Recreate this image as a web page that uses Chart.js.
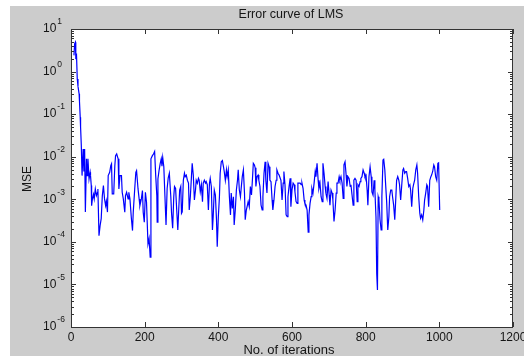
<!DOCTYPE html>
<html>
<head>
<meta charset="utf-8">
<style>
    html, body { margin: 0; padding: 0; background: #fff; }
    #wrap { width: 524px; height: 358px; }
</style>
<script src="https://cdn.jsdelivr.net/npm/chart.js@4/dist/chart.umd.min.js"></script>
</head>
<body>
<div id="wrap"><canvas id="errChart" width="524" height="358"></canvas></div>
<script>
// iteration numbers and MSE values
const iterations = [
    8, 10, 12, 13, 15, 17, 19, 22, 23, 25, 26, 28, 30, 33, 35, 37, 39, 42, 44, 46,
    49, 52, 53, 55, 56, 58, 61, 63, 66, 69, 72, 73, 76, 79, 82, 85, 88, 91, 94, 96,
    99, 101, 105, 108, 110, 112, 116, 119, 121, 124, 128, 130, 133, 137, 139, 142, 146, 148, 151, 155,
    157, 160, 164, 167, 169, 173, 176, 178, 182, 185, 187, 191, 194, 196, 199, 202, 205, 209, 212, 215,
    217, 221, 224, 227, 230, 233, 234, 236, 239, 242, 245, 247, 249, 252, 255, 258, 261, 264, 267, 271,
    273, 276, 279, 281, 284, 287, 290, 292, 295, 298, 300, 302, 305, 308, 310, 313, 316, 319, 321, 324,
    327, 329, 332, 335, 338, 340, 343, 346, 348, 351, 354, 357, 359, 362, 365, 367, 370, 373, 376, 378,
    381, 384, 386, 389, 392, 395, 397, 400, 403, 405, 408, 411, 414, 416, 419, 422, 424, 427, 430, 433,
    435, 438, 441, 443, 446, 449, 452, 454, 457, 460, 462, 465, 468, 471, 473, 476, 479, 481, 484, 487,
    490, 492, 495, 498, 500, 502, 505, 508, 510, 513, 516, 519, 521, 524, 527, 529, 532, 535, 538, 540,
    543, 546, 548, 551, 554, 557, 559, 562, 565, 567, 570, 573, 576, 578, 581, 584, 587, 589, 592, 595,
    597, 600, 603, 606, 608, 611, 614, 616, 619, 622, 625, 627, 630, 633, 635, 638, 641, 644, 646, 649,
    652, 654, 657, 660, 663, 665, 668, 671, 673, 676, 679, 682, 684, 687, 690, 692, 695, 698, 701, 703,
    706, 709, 711, 714, 717, 720, 722, 725, 728, 730, 733, 736, 739, 741, 744, 747, 749, 752, 755, 758,
    760, 763, 766, 768, 771, 774, 777, 779, 782, 785, 787, 790, 793, 796, 798, 801, 804, 806, 809, 812,
    815, 817, 820, 823, 825, 828, 830, 832, 834, 836, 839, 842, 844, 847, 849, 852, 854, 857, 860, 863,
    865, 868, 871, 873, 876, 879, 882, 884, 887, 890, 892, 895, 898, 901, 903, 906, 909, 911, 914, 917,
    920, 922, 925, 928, 930, 933, 936, 939, 941, 944, 947, 949, 952, 955, 958, 960, 963, 966, 968, 971,
    974, 977, 979, 982, 985, 987, 990, 993, 996, 998, 1001
];
const mse = [
    2.4, 4.5, 4.9, 2.2, 2.4, 0.67, 0.45, 0.30, 0.2, 0.085, 0.05, 0.018, 0.0036, 0.0152, 0.0045, 0.0152, 0.0005, 0.0089, 0.0036, 0.0089,
    0.0030, 0.0043, 0.0036, 0.0021, 0.00071, 0.0010, 0.0013, 0.00102, 0.00175, 0.00122, 0.00146, 0.00175, 0.00014, 0.00024, 0.00035, 0.0012, 0.0021, 0.00102, 0.00071, 0.0009,
    0.0005, 0.0036, 0.0043, 0.0062, 0.0068, 0.00134, 0.00134, 0.0062, 0.0106, 0.0116, 0.0089, 0.00175, 0.0036, 0.0036, 0.00146, 0.00102, 0.0005, 0.00122, 0.00146, 0.00102,
    0.00146, 0.00102, 0.00035, 0.000184, 0.0005, 0.00175, 0.0043, 0.0047, 0.00175, 0.00102, 0.00071, 0.00102, 0.0016, 0.0005, 0.00029, 0.00146, 0.00085, 0.000089, 0.00012, 0.000044,
    0.0089, 0.0106, 0.0116, 0.0132, 0.0036, 0.00122, 0.00029, 0.003, 0.0047, 0.0068, 0.0089, 0.006, 0.0096, 0.0058, 0.0012, 0.00025, 0.0018, 0.0032, 0.0041, 0.00115,
    0.00047, 0.00021, 0.00115, 0.002, 0.0018, 0.00056, 0.00019, 0.00047, 0.00165, 0.002, 0.00047, 0.00051, 0.0028, 0.0041, 0.0034, 0.0037, 0.0028, 0.0024, 0.00056, 0.00115,
    0.0034, 0.007, 0.0037, 0.00096, 0.00165, 0.0028, 0.0024, 0.0031, 0.0028, 0.0015, 0.0022, 0.00088, 0.0024, 0.0028, 0.0024, 0.0026, 0.0022, 0.00056, 0.0024, 0.0031,
    0.002, 0.00019, 0.00039, 0.00165, 0.00126, 0.00033, 0.000077, 0.00039, 0.00115, 0.0041, 0.0076, 0.0081, 0.0058, 0.0045, 0.0028, 0.0049, 0.0034, 0.0049, 0.00115, 0.00043,
    0.0014, 0.00061, 0.00115, 0.00025, 0.00056, 0.00165, 0.0028, 0.0049, 0.00165, 0.00115, 0.0018, 0.0034, 0.0049, 0.0014, 0.00033, 0.00056, 0.00073, 0.00088, 0.00067, 0.002,
    0.00126, 0.0024, 0.007, 0.0064, 0.0055, 0.002, 0.0034, 0.0037, 0.0028, 0.002, 0.00073, 0.00056, 0.00115, 0.0041, 0.0076, 0.0028, 0.0014, 0.007, 0.0058, 0.0028,
    0.0026, 0.00096, 0.00056, 0.00096, 0.002, 0.0028, 0.0049, 0.0041, 0.0037, 0.0037, 0.0028, 0.00096, 0.0024, 0.0045, 0.0022, 0.00043, 0.00039, 0.00115, 0.002, 0.0031,
    0.00067, 0.00165, 0.0024, 0.0022, 0.0015, 0.00088, 0.0008, 0.0024, 0.0024, 0.0024, 0.0022, 0.0024, 0.0018, 0.00096, 0.0008, 0.00073, 0.00056, 0.00017, 0.00043, 0.0008,
    0.00115, 0.0018, 0.0014, 0.0024, 0.0045, 0.0034, 0.007, 0.0028, 0.0018, 0.0024, 0.00115, 0.00088, 0.007, 0.0041, 0.002, 0.0014, 0.00105, 0.0026, 0.00126, 0.00073,
    0.00165, 0.0014, 0.00096, 0.0003, 0.00056, 0.0014, 0.0024, 0.0024, 0.0034, 0.0028, 0.0034, 0.0024, 0.00105, 0.0064, 0.0076, 0.0037, 0.002, 0.0034, 0.0031, 0.002,
    0.0022, 0.00126, 0.00073, 0.0028, 0.0031, 0.0028, 0.00088, 0.0022, 0.002, 0.0026, 0.0031, 0.0034, 0.0049, 0.0041, 0.0034, 0.0037, 0.00165, 0.00073, 0.0034, 0.0058,
    0.0034, 0.0015, 0.00126, 0.0028, 0.00165, 0.00039, 0.000018, 0.0000074, 0.00115, 0.00096, 0.00033, 0.00019, 0.00115, 0.0084, 0.0087, 0.0049, 0.0024, 0.00088, 0.00019, 0.00039,
    0.00115, 0.00165, 0.00165, 0.00115, 0.00073, 0.00033, 0.00115, 0.0028, 0.0034, 0.0028, 0.0022, 0.00096, 0.0022, 0.0049, 0.0053, 0.0041, 0.0045, 0.0045, 0.0031, 0.002,
    0.0022, 0.00165, 0.00067, 0.0018, 0.0022, 0.0028, 0.0049, 0.0064, 0.0041, 0.00115, 0.00047, 0.00036, 0.00043, 0.00033, 0.00056, 0.00096, 0.0014, 0.0022, 0.002, 0.00067,
    0.0028, 0.0034, 0.0037, 0.0045, 0.0064, 0.0058, 0.0034, 0.0028, 0.007, 0.0072, 0.00056
];
const xTickValues = [0, 200, 400, 600, 800, 1000, 1200];
const yExponents = [1, 0, -1, -2, -3, -4, -5, -6];

const titleText = 'Error curve of LMS';
const xTitle = 'No. of iterations';
const yTitle = 'MSE';

const axisColor = '#333333';
const textColor = '#151515';
const fontFamily = '"Liberation Sans", Arial, sans-serif';

// grey figure background, inward ticks, labels
const matlabFrame = {
    id: 'matlabFrame',
    beforeDraw(chart) {
        const c = chart.ctx;
        const a = chart.chartArea;
        c.save();
        c.fillStyle = '#fff';
        c.fillRect(0, 0, chart.width, chart.height);
        c.fillStyle = '#cccccc';
        c.fillRect(10, 6, chart.width - 10, 350);
        c.fillStyle = '#fff';
        c.fillRect(a.left, a.top, a.right - a.left, a.bottom - a.top);
        c.restore();
    },
    afterDraw(chart) {
        const c = chart.ctx;
        const a = chart.chartArea;
        const xs = chart.scales.x;
        const ys = chart.scales.y;
        c.save();
        c.strokeStyle = axisColor;
        c.lineWidth = 1;
        c.strokeRect(a.left + 0.5, a.top + 0.5, a.right - a.left - 1, a.bottom - a.top);

        c.beginPath();
        // x ticks (bottom and top, pointing in)
        xTickValues.forEach(v => {
            const px = Math.round(xs.getPixelForValue(v)) + 0.5;
            c.moveTo(px, a.bottom); c.lineTo(px, a.bottom - 5);
            c.moveTo(px, a.top); c.lineTo(px, a.top + 5);
        });
        // y ticks on log axis: decades and minor 2..9
        yExponents.forEach(e => {
            const py = Math.round(ys.getPixelForValue(Math.pow(10, e))) + 0.5;
            c.moveTo(a.left, py); c.lineTo(a.left + 5, py);
            c.moveTo(a.right, py); c.lineTo(a.right - 5, py);
            if (e > -6) {
                for (let m = 2; m <= 9; m++) {
                    const pm = Math.round(ys.getPixelForValue(m * Math.pow(10, e - 1))) + 0.5;
                    c.moveTo(a.left, pm); c.lineTo(a.left + 3, pm);
                    c.moveTo(a.right, pm); c.lineTo(a.right - 3, pm);
                }
            }
        });
        c.stroke();

        c.fillStyle = textColor;
        // x tick labels
        c.font = '12px ' + fontFamily;
        c.textAlign = 'center';
        c.textBaseline = 'middle';
        xTickValues.forEach(v => {
            c.fillText(String(v), xs.getPixelForValue(v), a.bottom + 11);
        });
        // y tick labels 10^e
        yExponents.forEach(e => {
            const py = ys.getPixelForValue(Math.pow(10, e));
            c.font = '12px ' + fontFamily;
            c.textAlign = 'left';
            c.textBaseline = 'middle';
            c.fillText('10', 43, py);
            const w = c.measureText('10').width;
            c.font = '8.5px ' + fontFamily;
            c.fillText(String(e), 43 + w + 1, py - 7);
        });
        // titles
        c.textAlign = 'center';
        c.textBaseline = 'middle';
        c.font = '12.5px ' + fontFamily;
        c.fillText(titleText, 291, 15);
        c.font = '13px ' + fontFamily;
        c.fillText(xTitle, 289, 350);
        c.save();
        c.translate(28, 179);
        c.rotate(-Math.PI / 2);
        c.font = '12px ' + fontFamily;
        c.fillText(yTitle, 0, 0);
        c.restore();
        c.restore();
    }
};

window.onload = function () {
    const ctx = document.getElementById('errChart').getContext('2d');
    const points = iterations.map((it, i) => ({ x: it, y: mse[i] }));

    new Chart(ctx, {
        type: 'line',
        data: {
            datasets: [{
                data: points,
                borderColor: '#0000ff',
                borderWidth: 1.2,
                pointRadius: 0,
                tension: 0,
                fill: false
            }]
        },
        options: {
            responsive: false,
            animation: false,
            layout: { padding: { top: 29, right: 11, bottom: 0, left: 0 } },
            plugins: {
                legend: { display: false },
                title: { display: false },
                tooltip: { enabled: false }
            },
            scales: {
                x: {
                    type: 'linear',
                    min: 0,
                    max: 1200,
                    ticks: { display: false, stepSize: 200 },
                    grid: { display: false },
                    border: { display: false },
                    afterFit: function (scale) { scale.height = 31; }
                },
                y: {
                    type: 'logarithmic',
                    min: 1e-6,
                    max: 10,
                    ticks: { display: false },
                    grid: { display: false },
                    border: { display: false },
                    afterFit: function (scale) { scale.width = 71; }
                }
            }
        },
        plugins: [matlabFrame]
    });
};
</script>
</body>
</html>
